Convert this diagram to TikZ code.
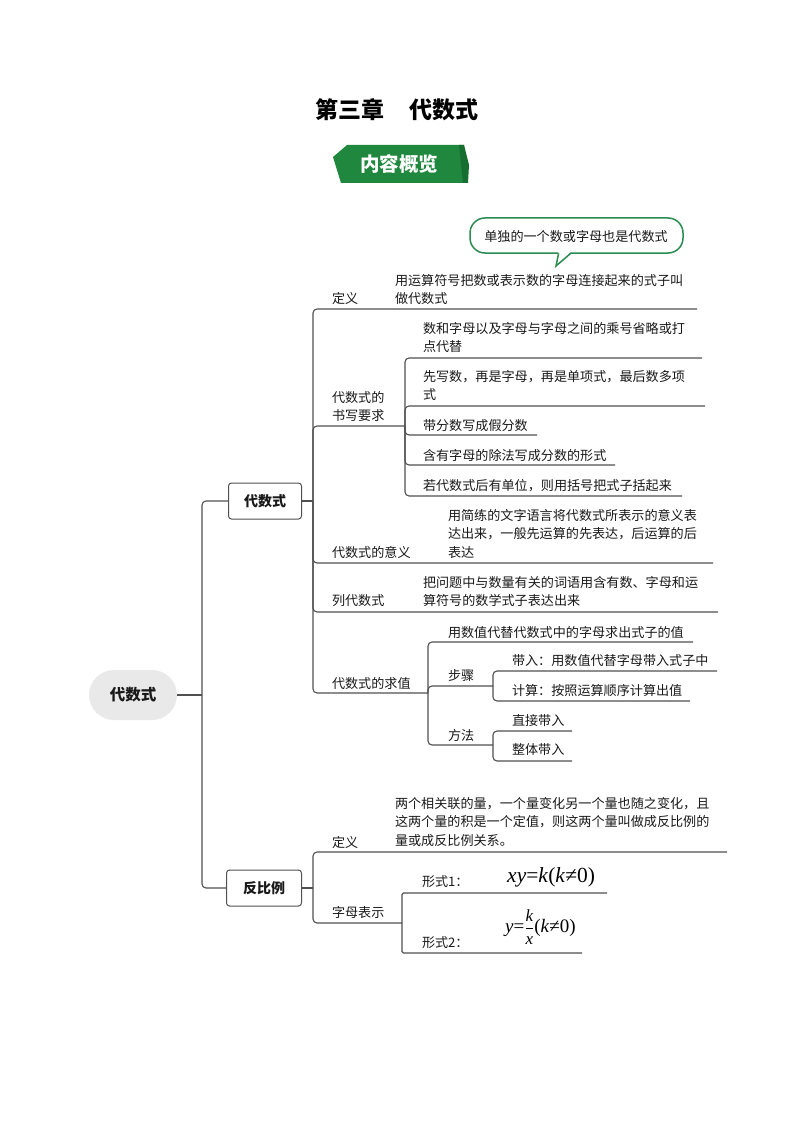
\documentclass[tikz,border=0pt]{standalone}
\usepackage{fontspec}
\setmainfont{Noto Sans CJK SC}
\newfontfamily\tnr{Liberation Serif}
\definecolor{linec}{RGB}{80,80,80}
\definecolor{txtc}{RGB}{25,25,25}
\definecolor{bangreen}{RGB}{32,136,62}
\definecolor{bandark}{RGB}{22,110,48}
\definecolor{notegreen}{RGB}{42,140,80}
\definecolor{rootgray}{RGB}{233,233,233}
\newcommand\fsz{\fontsize{13.1}{18.7}\selectfont}
\newcommand\twol[2]{\vtop{\hbox{#1}\hbox{#2}}}
\newcommand\threel[3]{\vtop{\hbox{#1}\hbox{#2}\hbox{#3}}}
\newcommand\fracpart[1]{\hbox{\tnr\fontsize{17}{18}\selectfont\itshape #1}}
\tikzset{
  txt/.style={anchor=base west, inner sep=0pt, outer sep=0pt, font=\fsz, text=txtc},
  br/.style={draw=linec, line width=1.1pt, rounded corners=4pt},
  boxnode/.style={draw=linec, line width=1pt, rounded corners=3pt, fill=white,
    minimum width=73pt, minimum height=36pt, inner sep=0pt,
    font=\bfseries\fontsize{14}{16}\selectfont, text=txtc},
}
\begin{document}
\begin{tikzpicture}[x=1pt,y=-1pt]
\path[use as bounding box] (0,0) rectangle (794,1123);

% title
\node[inner sep=0pt, font=\bfseries\fontsize{23}{26}\selectfont, text=black] (title) at (397,110) {第三章\hspace{26pt}代数式};

% banner
\fill[bangreen] (347,145) -- (464,145) -- (468,183) -- (341,183) -- (333,157) -- cycle;
\fill[bandark] (459,145) -- (464,145) -- (469,165) -- (468,183) -- (463,183) -- cycle;
\node[inner sep=0pt, font=\bfseries\fontsize{19.5}{22}\selectfont, text=white] (ban) at (399,164) {内容概览};

% callout
\draw[notegreen, line width=1.5pt, fill=white, rounded corners=15pt] (470,218) rectangle (683,253);
\fill[white] (558.6,252) -- (556,266) -- (570.6,252) -- cycle;
\draw[notegreen, line width=1.5pt, line join=miter] (558.6,253.4) -- (556,266) -- (570.6,253.4);
\node[inner sep=0pt, font=\fsz, text=txtc] (note) at (576,236) {单独的一个数或字母也是代数式};

% main nodes
\node[fill=rootgray, rounded corners=25pt, minimum width=88pt, minimum height=50pt, inner sep=0pt,
      font=\bfseries\fontsize{15.5}{18}\selectfont, text=txtc] (root) at (133,695) {代数式};
\node[boxnode] (alg) at (265,501) {代数式};
\node[boxnode, minimum width=75pt] (inv) at (264,888) {反比例};

% junctions
\coordinate (j0) at (202,695);
\coordinate (j1) at (313,501);
\coordinate (j2) at (405,426);
\coordinate (j3) at (428,693);
\coordinate (j4) at (493,686);
\coordinate (j5) at (493,745);
\coordinate (j6) at (313,888);
\coordinate (j7) at (402,923);

% texts: 代数式 branch
\node[txt] (d1) at (332,303) {定义};
\node[txt] (d1t) at (395,285) {\twol{用运算符号把数或表示数的字母连接起来的式子叫}{做代数式}};
\node[txt] (w) at (332,402) {\twol{代数式的}{书写要求}};
\node[txt] (w1) at (423,333) {\twol{数和字母以及字母与字母之间的乘号省略或打}{点代替}};
\node[txt] (w2) at (423,381) {\twol{先写数，再是字母，再是单项式，最后数多项}{式}};
\node[txt] (w3) at (423,430) {带分数写成假分数};
\node[txt] (w4) at (423,460) {含有字母的除法写成分数的形式};
\node[txt] (w5) at (423,490) {若代数式后有单位，则用括号把式子括起来};
\node[txt] (m) at (332,557) {代数式的意义};
\node[txt] (mt) at (448,520) {\threel{用简练的文字语言将代数式所表示的意义表}{达出来，一般先运算的先表达，后运算的后}{表达}};
\node[txt] (l) at (332,605) {列代数式};
\node[txt] (lt) at (423,587) {\twol{把问题中与数量有关的词语用含有数、字母和运}{算符号的数学式子表达出来}};
\node[txt] (e) at (332,688) {代数式的求值};
\node[txt] (e1) at (448,637) {用数值代替代数式中的字母求出式子的值};
\node[txt] (s) at (448,680) {步骤};
\node[txt] (s1) at (512,665) {带入：用数值代替字母带入式子中};
\node[txt] (s2) at (512,695) {计算：按照运算顺序计算出值};
\node[txt] (f) at (448,740) {方法};
\node[txt] (f1) at (512,725) {直接带入};
\node[txt] (f2) at (512,754) {整体带入};

% texts: 反比例 branch
\node[txt] (id) at (332,847) {定义};
\node[txt] (idt) at (395,808) {\threel{两个相关联的量，一个量变化另一个量也随之变化，且}{这两个量的积是一个定值，则这两个量叫做成反比例的}{量或成反比例关系。}};
\node[txt] (r) at (332,917) {字母表示};
\node[txt] (r1) at (422,886) {形式1：};
\node[txt] (r2) at (422,947) {形式2：};
\node[anchor=west, inner sep=0pt, text=black, font=\tnr\fontsize{21.5}{23}\selectfont] (fm1) at (507,877)
  {\textit{xy}=\textit{k}(\textit{k}≠0)};
\node[anchor=west, inner sep=0pt, text=black, font=\tnr\fontsize{19}{21}\selectfont] (fm2) at (505,927)
  {$\hbox{\textit{y}=}\displaystyle\frac{\fracpart{k}}{\fracpart{x}}\hbox{(\textit{k}≠0)}$};

% connectors
\draw[br] (root.east) -- (j0);
\draw[br] (j0) |- (alg.west);
\draw[br] (j0) |- (inv.west);
\draw[br] (alg.east) -- (j1);
\draw[br] (j1) |- (697,309);
\draw[br] (j1) |- (j2);
\draw[br] (j1) |- (713,563);
\draw[br] (j1) |- (718,612);
\draw[br] (j1) |- (j3);
\draw[br] (j2) |- (702,358);
\draw[br] (j2) |- (705,406);
\draw[br] (j2) |- (537,435);
\draw[br] (j2) |- (615,465);
\draw[br] (j2) |- (682,496);
\draw[br] (j3) |- (693,642);
\draw[br] (j3) |- (j4);
\draw[br] (j3) |- (j5);
\draw[br] (j4) |- (717,671);
\draw[br] (j4) |- (690,701);
\draw[br] (j5) |- (572,731);
\draw[br] (j5) |- (572,761);
\draw[br] (inv.east) -- (j6);
\draw[br] (j6) |- (727,852);
\draw[br] (j6) |- (j7);
\draw[br, rounded corners=1.5pt] (j7) |- (607,893);
\draw[br, rounded corners=1.5pt] (j7) |- (582,953);
\end{tikzpicture}
\end{document}
